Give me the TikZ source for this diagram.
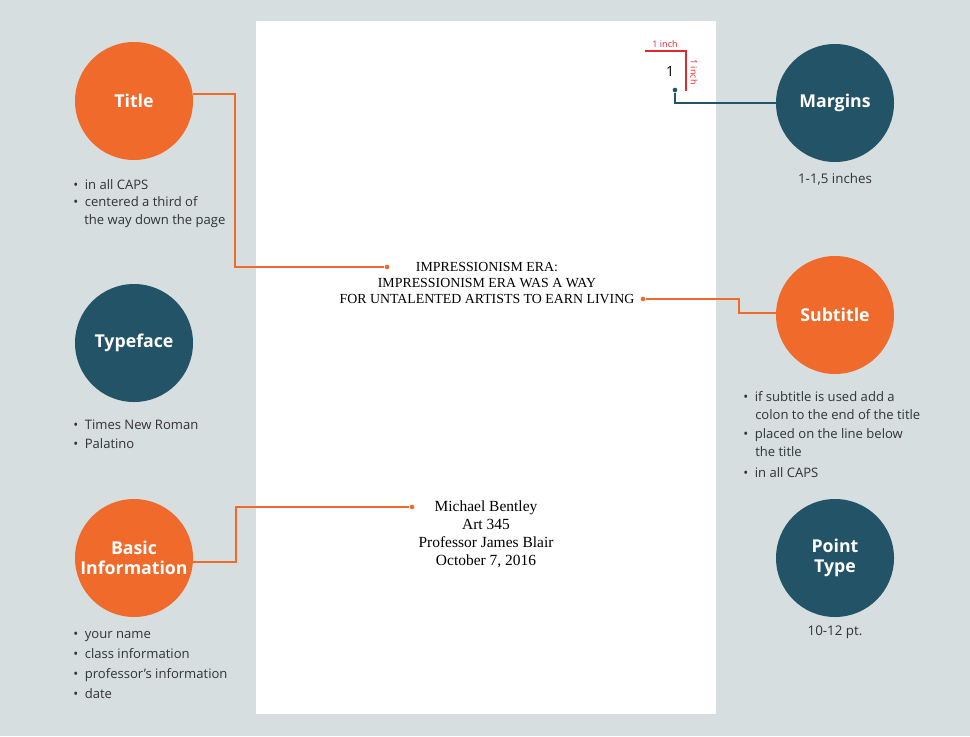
\documentclass[tikz,border=0pt]{standalone}
\usepackage{fontspec}
\setmainfont{Open Sans}
\newfontfamily\pagefont{Liberation Serif}
\usetikzlibrary{positioning}
\definecolor{bgc}{HTML}{D6DEE0}
\definecolor{orng}{HTML}{EF6A2B}
\definecolor{dark}{HTML}{235366}
\definecolor{redc}{HTML}{E0282E}
\definecolor{txt}{HTML}{333333}
\begin{document}
\begin{tikzpicture}[x=0.75pt,y=-0.75pt,
    big node/.style={circle,minimum size=88.5pt,inner sep=0pt,text=white,font=\bfseries\fontsize{13.3}{14.5}\selectfont,align=center},
    orange node/.style={big node,fill=orng},
    dark node/.style={big node,fill=dark},
    item/.style={anchor=base west,inner sep=0pt,text=txt,font=\fontsize{9.8}{11}\selectfont},
    caption text/.style={inner sep=0pt,text=txt,font=\fontsize{10}{11}\selectfont},
    pg/.style={inner sep=0pt,align=center,font=\pagefont\fontsize{10.4}{12}\selectfont},
    link/.style={line width=1.3pt},
    dot/.style={circle,fill,inner sep=0pt,minimum size=3.5pt}]
  \fill[bgc] (0,0) rectangle (970,736);
  \fill[white] (256,21) rectangle (716,714);
  % circles
  \node[orange node] (title) at (134,101) {Title};
  \node[dark node] (typeface) at (134,343) {Typeface};
  \node[orange node] (basic) at (134,558) {Basic\\Information};
  \node[dark node] (margins) at (835,103) {Margins};
  \node[orange node] (subtitle) at (835,315) {Subtitle};
  \node[dark node] (point) at (835,558) {Point\\Type};
  % page text
  \node[pg] (ptitle) at (487,283) {IMPRESSIONISM ERA:\\IMPRESSIONISM ERA WAS A WAY\\FOR UNTALENTED ARTISTS TO EARN LIVING};
  \node[pg,font=\pagefont\fontsize{11.6}{13.5}\selectfont] (pinfo) at (486,534) {Michael Bentley\\Art 345\\Professor James Blair\\October 7, 2016};
  \node[inner sep=0pt,font=\fontsize{10.5}{12}\selectfont] (one) at (670,71) {1};
  % margin marks
  \draw[redc,line width=1pt] (645,51) -- (686,51) -- (686,91);
  \node[inner sep=0pt,text=redc,font=\fontsize{6.8}{7}\selectfont] (hinch) at (665,44) {1 inch};
  \node[inner sep=0pt,text=redc,font=\fontsize{6.8}{7}\selectfont,rotate=-90] (vinch) at (694,72) {1 inch};
  % connectors
  \node[dot,orng] (d1) at (387,267) {};
  \node[dot,orng] (d2) at (643,299) {};
  \node[dot,orng] (d3) at (412,507) {};
  \node[dot,dark] (d4) at (675,90) {};
  \draw[link,orng] (title.east |- 0,94) -- (235,94) -- (235,267) -- (d1);
  \draw[link,orng] (d2) -- (739,299) -- (739,313) -- (subtitle.west |- 0,313);
  \draw[link,orng] (basic.east |- 0,562) -- (236,562) -- (236,507) -- (d3);
  \draw[link,dark] (d4) -- (675,103) -- (margins.west |- 0,103);
  % captions
  \node[caption text] (mcap) at (835,179) {1-1,5 inches};
  \node[caption text] (pcap) at (835,632) {10-12 pt.};
  % bullet lists
  \foreach \y/\t in {189/in all CAPS, 206/centered a third of}
    \node[item] at (73,\y) {\textbullet\hspace{5pt}\t};
  \node[item] at (84,224) {the way down the page};
  \foreach \y/\t in {429/Times New Roman, 448/Palatino}
    \node[item] at (73,\y) {\textbullet\hspace{5pt}\t};
  \foreach \y/\t in {638/your name, 658/class information, 678/professor’s information, 698/date}
    \node[item] at (73,\y) {\textbullet\hspace{5pt}\t};
  \foreach \y/\t in {401/if subtitle is used add a, 438/placed on the line below, 477/in all CAPS}
    \node[item] at (743,\y) {\textbullet\hspace{5pt}\t};
  \node[item] at (755,419) {colon to the end of the title};
  \node[item] at (755,456) {the title};
\end{tikzpicture}
\end{document}
